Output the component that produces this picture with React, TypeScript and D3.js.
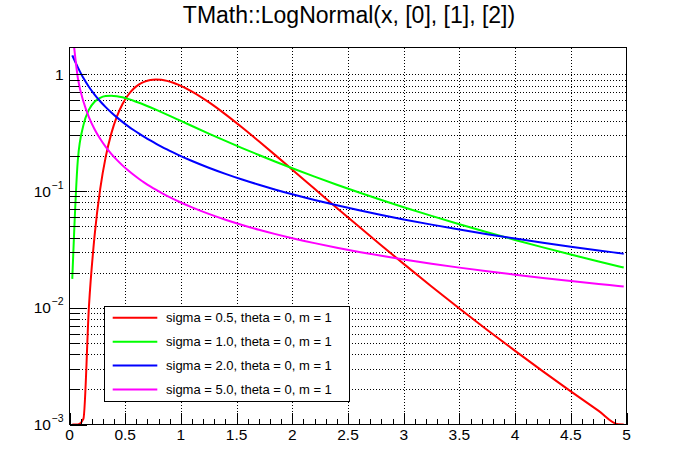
import React from "react";
import * as d3 from "d3";

const TITLE = "TMath::LogNormal(x, [0], [1], [2])";

const X = [
  0.025, 0.075, 0.125, 0.175, 0.225, 0.275, 0.325, 0.375, 0.425, 0.475,
  0.525, 0.575, 0.625, 0.675, 0.725, 0.775, 0.825, 0.875, 0.925, 0.975,
  1.1, 1.25, 1.4, 1.55, 1.7, 1.85, 2.0, 2.2, 2.4, 2.6,
  2.8, 3.0, 3.25, 3.5, 3.75, 4.0, 4.25, 4.5, 4.75, 4.925, 4.975,
];

const SIGMA_05 = [
  5e-11, 1.59e-5, 1.12e-3, 0.01047, 0.04141, 0.1035, 0.1963, 0.3107, 0.4341, 0.5546,
  0.6623, 0.7521, 0.8207, 0.8679, 0.895, 0.904, 0.8982, 0.88, 0.8522, 0.8173,
  0.7123, 0.5778, 0.4545, 0.3506, 0.2672, 0.2023, 0.1526, 0.1046, 0.07178, 0.04944,
  0.0342, 0.02379, 0.01525, 0.009878, 0.006462, 0.004271, 0.002852, 0.001922, 0.001308, 0.001004, 0.000932,
];

const SIGMA_10 = [
  0.0177, 0.1857, 0.3673, 0.499, 0.5828, 0.6305, 0.6528, 0.6577, 0.6509, 0.6366,
  0.6174, 0.5953, 0.5715, 0.5471, 0.5225, 0.4983, 0.4747, 0.4519, 0.43, 0.409,
  0.361, 0.3113, 0.2693, 0.2338, 0.2039, 0.1785, 0.1569, 0.1329, 0.1133, 0.0972,
  0.08386, 0.07273, 0.06128, 0.052, 0.04442, 0.03815, 0.03296, 0.02861, 0.02495, 0.02273, 0.02214,
];

const SIGMA_20 = [
  1.456, 1.1497, 0.9294, 0.7796, 0.6713, 0.5889, 0.5241, 0.4717, 0.4283, 0.3918,
  0.3607, 0.3339, 0.3105, 0.2899, 0.2716, 0.2553, 0.2407, 0.2275, 0.2155, 0.2046,
  0.1811, 0.1586, 0.1405, 0.1256, 0.1133, 0.1028, 0.09392, 0.08389, 0.07552, 0.06844,
  0.0624, 0.05718, 0.05159, 0.04684, 0.04276, 0.03922, 0.03613, 0.03341, 0.031, 0.02948, 0.02906,
];

const SIGMA_50 = [
  2.431, 0.9302, 0.5854, 0.429, 0.3392, 0.2806, 0.2394, 0.2087, 0.185, 0.1661,
  0.1507, 0.1379, 0.1271, 0.1178, 0.1098, 0.1028, 0.09664, 0.09115, 0.08625, 0.08183,
  0.07252, 0.06377, 0.05686, 0.05128, 0.04667, 0.04281, 0.03951, 0.03582, 0.03274, 0.03013,
  0.0279, 0.02596, 0.02388, 0.02209, 0.02055, 0.0192, 0.018, 0.01695, 0.016, 0.0154, 0.01523,
];

const SERIES_LABELS = [
  "sigma = 0.5, theta = 0, m = 1",
  "sigma = 1.0, theta = 0, m = 1",
  "sigma = 2.0, theta = 0, m = 1",
  "sigma = 5.0, theta = 0, m = 1",
];
const SERIES_VALUES = [SIGMA_05, SIGMA_10, SIGMA_20, SIGMA_50];
const SERIES_COLORS = ["#ff0000", "#00ff00", "#0000ff", "#ff00ff"];

const X_TICKS = [0, 0.5, 1, 1.5, 2, 2.5, 3, 3.5, 4, 4.5, 5];
const X_TICK_LABELS = ["0", "0.5", "1", "1.5", "2", "2.5", "3", "3.5", "4", "4.5", "5"];
const Y_TICKS = [1, 0.1, 0.01, 0.001];
const Y_EXPONENTS = [0, -1, -2, -3];

const W = 696;
const H = 472;
const L = 69.5;
const R = 626.5;
const T = 47.5;
const B = 424.5;
const Y_MIN = 0.001;
const Y_MAX = 1.7;
const FONT = "'Liberation Sans', Arial, Helvetica, sans-serif";

export default function App() {
  const x = d3.scaleLinear().domain([0, 5]).range([L, R]);
  const y = d3.scaleLog().domain([Y_MIN, Y_MAX]).range([B, T]);

  const line = d3
    .line<number>()
    .x((_, i) => x(X[i]))
    .y((v) => y(Math.max(v, Y_MIN)))
    .curve(d3.curveMonotoneX);

  const xMinor = d3.range(0, 51).map((i) => i / 10).filter((v) => Math.round(v * 10) % 5 !== 0);
  const yMinor: number[] = [];
  [0.001, 0.01, 0.1, 1].forEach((dec) => {
    for (let k = 2; k <= 9; k++) {
      const v = dec * k;
      if (v <= Y_MAX) yMinor.push(v);
    }
  });
  const yGrid = [...Y_TICKS, ...yMinor].filter((v) => v > Y_MIN);
  const xGrid = X_TICKS.filter((v) => v > 0 && v < 5);

  const legX = 104.5;
  const legY = 306.5;
  const legW = 244.5;
  const legH = 95;
  const rowY = [317.7, 341.7, 365.5, 389.4];

  return (
    <svg
      width={W}
      height={H}
      style={{ position: "absolute", left: 0, top: 0, background: "#fff" }}
      fontFamily={FONT}
    >
      <rect x={0} y={0} width={W} height={H} fill="#fff" />
      <defs>
        <clipPath id="plotclip">
          <rect x={L} y={T} width={R - L} height={B - T} />
        </clipPath>
      </defs>

      {/* grid */}
      <g stroke="#000" strokeWidth={1} strokeDasharray="1,2" shapeRendering="crispEdges">
        {xGrid.map((v) => (
          <line key={"gx" + v} x1={Math.round(x(v)) + 0.5} x2={Math.round(x(v)) + 0.5} y1={T} y2={B} />
        ))}
        {yGrid.map((v) => (
          <line key={"gy" + v} x1={L} x2={R} y1={Math.round(y(v)) + 0.5} y2={Math.round(y(v)) + 0.5} />
        ))}
      </g>

      {/* curves */}
      <g clipPath="url(#plotclip)">
        {SERIES_VALUES.map((vals, i) => (
          <path
            key={"s" + i}
            d={line(vals) || ""}
            fill="none"
            stroke={SERIES_COLORS[i]}
            strokeWidth={2}
            strokeLinejoin="round"
          />
        ))}
      </g>

      {/* frame */}
      <rect x={L} y={T} width={R - L} height={B - T} fill="none" stroke="#000" strokeWidth={1} shapeRendering="crispEdges" />

      {/* ticks */}
      <g stroke="#000" strokeWidth={1} shapeRendering="crispEdges">
        {X_TICKS.map((v) => (
          <line key={"xt" + v} x1={Math.round(x(v)) + 0.5} x2={Math.round(x(v)) + 0.5} y1={B} y2={B - 12} />
        ))}
        {xMinor.map((v) => (
          <line key={"xm" + v} x1={Math.round(x(v)) + 0.5} x2={Math.round(x(v)) + 0.5} y1={B} y2={B - 6} />
        ))}
        {Y_TICKS.map((v) => (
          <line key={"yt" + v} x1={L} x2={L + 17} y1={Math.round(y(v)) + 0.5} y2={Math.round(y(v)) + 0.5} />
        ))}
        {yMinor.map((v) => (
          <line key={"ym" + v} x1={L} x2={L + 9} y1={Math.round(y(v)) + 0.5} y2={Math.round(y(v)) + 0.5} />
        ))}
      </g>

      {/* x tick labels */}
      <g fontSize={15.5} fill="#000" textAnchor="middle">
        {X_TICKS.map((v, i) => (
          <text key={"xl" + v} x={x(v)} y={440}>
            {X_TICK_LABELS[i]}
          </text>
        ))}
      </g>

      {/* y tick labels */}
      <g fill="#000">
        {Y_TICKS.map((v, i) =>
          Y_EXPONENTS[i] === 0 ? (
            <text key={"yl" + v} x={63.5} y={y(v) + 5.5} fontSize={15.5} textAnchor="end">
              1
            </text>
          ) : (
            <g key={"yl" + v}>
              <text x={51} y={y(v) + 5.5} fontSize={15.5} textAnchor="end">
                10
              </text>
              <text x={51.5} y={y(v) - 2.5} fontSize={10.5} textAnchor="start">
                {"\u2212" + String(-Y_EXPONENTS[i])}
              </text>
            </g>
          )
        )}
      </g>

      {/* title */}
      <text x={349} y={23} fontSize={23} textAnchor="middle" fill="#000">
        {TITLE}
      </text>

      {/* legend */}
      <rect x={legX} y={legY} width={legW} height={legH} fill="#fff" stroke="#000" strokeWidth={1} shapeRendering="crispEdges" />
      {SERIES_LABELS.map((lab, i) => (
        <g key={"lg" + i}>
          <line x1={112.7} x2={157.3} y1={rowY[i]} y2={rowY[i]} stroke={SERIES_COLORS[i]} strokeWidth={2} />
          <text x={166} y={rowY[i] + 4.7} fontSize={13} fill="#000">
            {lab}
          </text>
        </g>
      ))}
    </svg>
  );
}
